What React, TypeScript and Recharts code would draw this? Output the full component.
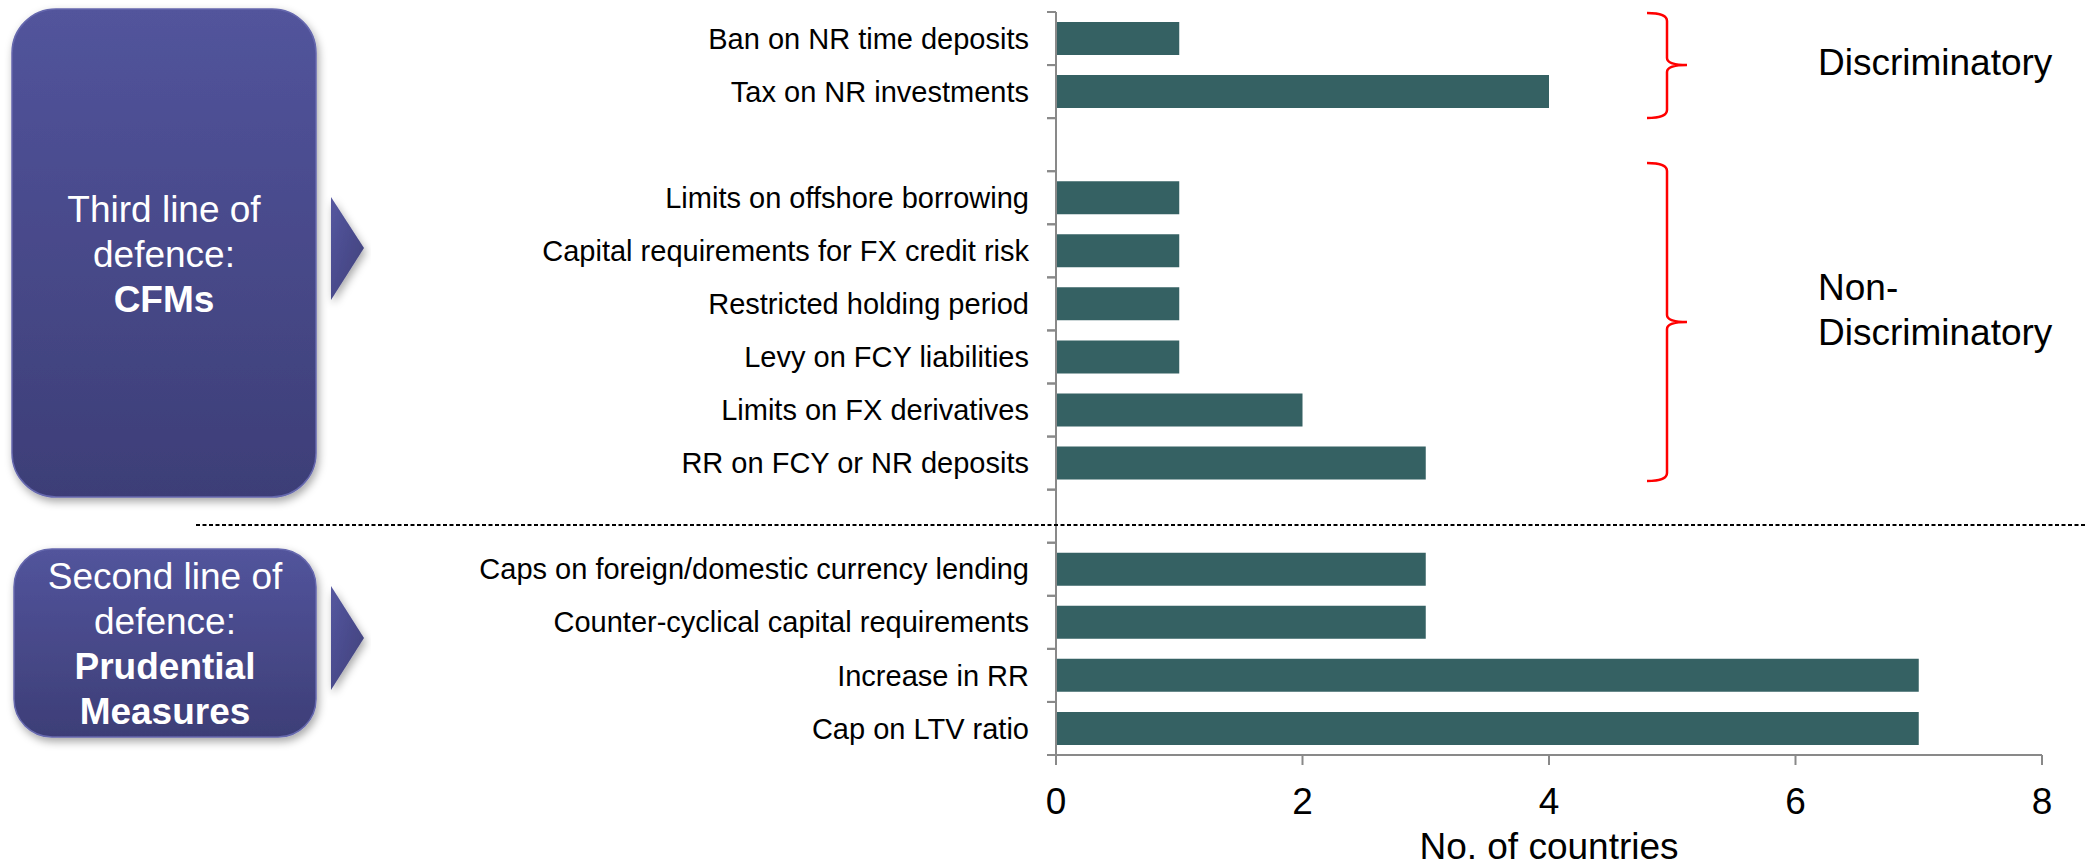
import React from 'react';
import { BarChart, Bar, XAxis, YAxis } from 'recharts';

// ---- data ----
const categories = [
  'Ban on NR time deposits',
  'Tax on NR investments',
  '',
  'Limits on offshore borrowing',
  'Capital requirements for FX credit risk',
  'Restricted holding period',
  'Levy on FCY liabilities',
  'Limits on FX derivatives',
  'RR on FCY or NR deposits',
  '',
  'Caps on foreign/domestic currency lending',
  'Counter-cyclical capital requirements',
  'Increase in RR',
  'Cap on LTV ratio',
];
const countries: (number | null)[] = [1, 4, null, 1, 1, 1, 1, 2, 3, null, 3, 3, 7, 7];
const xTicks = [0, 2, 4, 6, 8];
const xTitle = 'No. of countries';
const groupDiscriminatory = ['Discriminatory'];
const groupNonDiscriminatory = ['Non-', 'Discriminatory'];
const thirdLine = ['Third line of', 'defence:', 'CFMs'];
const secondLine = ['Second line of', 'defence:', 'Prudential', 'Measures'];

const data = categories.map((c, i) => ({ id: `c${i}`, label: c, value: countries[i] }));

// ---- layout ----
const W = 2091;
const H = 868;
const YAXIS_W = 1056;
const M_TOP = 12;
const M_RIGHT = 49;
const XAXIS_H = 80;
const M_BOTTOM = 33;
const PLOT_H = H - M_TOP - M_BOTTOM - XAXIS_H;
const FONT = "'Liberation Sans', Arial, Helvetica, sans-serif";
const AXIS_GREY = '#898989';
const BAR = '#356163';

const CategoryTick = (props: any) => {
  const { y, index } = props;
  const band = PLOT_H / categories.length;
  const label = categories[index] ?? '';
  return (
    <g>
      <line x1={YAXIS_W - 9} x2={YAXIS_W} y1={y - band / 2} y2={y - band / 2} stroke={AXIS_GREY} strokeWidth={2} />
      <line x1={YAXIS_W - 9} x2={YAXIS_W} y1={y + band / 2} y2={y + band / 2} stroke={AXIS_GREY} strokeWidth={2} />
      {label && (
        <text x={YAXIS_W - 27} y={y} dy="0.35em" textAnchor="end" fontSize={29} fontFamily={FONT} fill="#000">
          {label}
        </text>
      )}
    </g>
  );
};

const brace = (x0: number, top: number, mid: number, bottom: number) => {
  const xv = x0 + 20;
  const xt = x0 + 40;
  return `M ${x0} ${top} Q ${xv} ${top} ${xv} ${top + 8} L ${xv} ${mid - 7} Q ${xv} ${mid} ${xt} ${mid} Q ${xv} ${mid} ${xv} ${mid + 7} L ${xv} ${bottom - 8} Q ${xv} ${bottom} ${x0} ${bottom}`;
};

export default function App() {
  return (
    <div style={{ position: 'absolute', left: 0, top: 0, width: W, height: H, background: '#fff' }}>
      <BarChart
        width={W}
        height={H}
        data={data}
        layout="vertical"
        margin={{ top: M_TOP, right: M_RIGHT, bottom: M_BOTTOM, left: 0 }}
      >
        <XAxis
          type="number"
          domain={[0, 8]}
          ticks={xTicks}
          height={XAXIS_H}
          tickSize={10}
          tickMargin={23}
          axisLine={{ stroke: AXIS_GREY, strokeWidth: 2 }}
          tickLine={{ stroke: AXIS_GREY, strokeWidth: 2 }}
          tick={{ fontSize: 37, fill: '#000', fontFamily: FONT }}
        />
        <YAxis
          type="category"
          dataKey="id"
          width={YAXIS_W}
          interval={0}
          tickLine={false}
          axisLine={{ stroke: AXIS_GREY, strokeWidth: 2 }}
          tick={<CategoryTick />}
        />
        <Bar dataKey="value" fill={BAR} barSize={33} isAnimationActive={false} />
      </BarChart>

      <svg
        width={W}
        height={H}
        style={{ position: 'absolute', left: 0, top: 0, pointerEvents: 'none' }}
      >
        <defs>
          <linearGradient id="boxGrad" x1="0" y1="0" x2="0" y2="1">
            <stop offset="0" stopColor="#52549c" />
            <stop offset="1" stopColor="#3d3e77" />
          </linearGradient>
          <linearGradient id="triGrad" x1="0" y1="0" x2="1" y2="1">
            <stop offset="0" stopColor="#5557a0" />
            <stop offset="1" stopColor="#3f4079" />
          </linearGradient>
          <filter id="shadow" x="-20%" y="-20%" width="140%" height="140%">
            <feDropShadow dx="2" dy="4" stdDeviation="4" floodColor="#000" floodOpacity="0.35" />
          </filter>
        </defs>

        {/* boxes */}
        <rect x={12} y={9} width={304} height={488} rx={44} ry={44} fill="url(#boxGrad)" filter="url(#shadow)" stroke="#6567ad" strokeWidth={1.5} />
        <rect x={14} y={549} width={302} height={188} rx={38} ry={38} fill="url(#boxGrad)" filter="url(#shadow)" stroke="#6567ad" strokeWidth={1.5} />

        {/* arrows */}
        <polygon points="331,197 364,248 331,300" fill="url(#triGrad)" filter="url(#shadow)" />
        <polygon points="331,586 364,638 331,690" fill="url(#triGrad)" filter="url(#shadow)" />

        {/* box texts */}
        {thirdLine.map((t, i) => (
          <text key={t} x={164} y={222 + i * 45} textAnchor="middle" fontSize={37} fontFamily={FONT} fill="#fff" fontWeight={i === 2 ? 'bold' : 'normal'}>
            {t}
          </text>
        ))}
        {secondLine.map((t, i) => (
          <text key={t} x={165} y={589 + i * 45} textAnchor="middle" fontSize={37} fontFamily={FONT} fill="#fff" fontWeight={i >= 2 ? 'bold' : 'normal'}>
            {t}
          </text>
        ))}

        {/* dashed separator */}
        <line x1={196} x2={2086} y1={525} y2={525} stroke="#000" strokeWidth={2} strokeDasharray="4 2.5" />

        {/* braces */}
        <path d={brace(1647, 13, 65, 118)} stroke="#ff0000" strokeWidth={2.5} fill="none" />
        <path d={brace(1647, 163, 322, 481)} stroke="#ff0000" strokeWidth={2.5} fill="none" />

        {/* group labels */}
        {groupDiscriminatory.map((t, i) => (
          <text key={t} x={1818} y={75 + i * 45} fontSize={37} fontFamily={FONT} fill="#000">{t}</text>
        ))}
        {groupNonDiscriminatory.map((t, i) => (
          <text key={t + i} x={1818} y={300 + i * 45} fontSize={37} fontFamily={FONT} fill="#000">{t}</text>
        ))}

        {/* axis title */}
        <text x={(YAXIS_W + W - M_RIGHT) / 2} y={859} textAnchor="middle" fontSize={37} fontFamily={FONT} fill="#000">
          {xTitle}
        </text>
      </svg>
    </div>
  );
}
